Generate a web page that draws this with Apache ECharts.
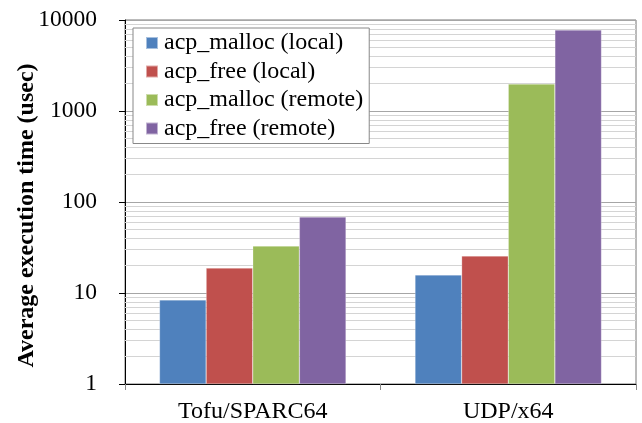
<!DOCTYPE html>
<html><head><meta charset="utf-8">
<script src="https://cdn.jsdelivr.net/npm/echarts@6/dist/echarts.min.js"></script>
<style>html,body{margin:0;padding:0;background:#fff}#c{width:642px;height:423px}</style>
</head><body><div id="c"></div>
<script>
const categories = ['Tofu/SPARC64', 'UDP/x64'];
const seriesNames = ['acp_malloc (local)', 'acp_free (local)', 'acp_malloc (remote)', 'acp_free (remote)'];
const mallocLocal = [8.4, 15.8];
const freeLocal = [18.8, 25.5];
const mallocRemote = [32.8, 1980];
const freeRemote = [68.4, 7770];
const colors = ['#4F81BD', '#C0504D', '#9BBB59', '#8064A2'];
const minorGridValues = [2,3,4,5,6,7,8,9,20,30,40,50,60,70,80,90,200,300,400,500,600,700,800,900,2000,3000,4000,5000,6000,7000,8000,9000];

const font = '"Liberation Serif", "Times New Roman", serif';
const values = [mallocLocal, freeLocal, mallocRemote, freeRemote];
const series = values.map((v, i) => ({
  name: seriesNames[i], type: 'bar', data: v, barGap: '0%', barCategoryGap: '27%', z: 2,
  itemStyle: { color: colors[i], borderColor: 'rgba(255,255,255,0.5)', borderWidth: 0.5 }
}));
series.push({
  type: 'line', data: [], z: 1, silent: true,
  markLine: {
    silent: true, symbol: 'none', z: 1, label: { show: false },
    lineStyle: { color: '#d4d4d4', width: 1, type: 'solid' },
    data: minorGridValues.map(v => ({ yAxis: v }))
  }
});

const chart = echarts.init(document.getElementById('c'));
chart.setOption({
  animation: false,
  color: colors,
  grid: { left: 125, right: 6, top: 20, bottom: 39, outerBoundsMode: 'none', containLabel: false, show: true, borderColor: '#777', borderWidth: 1, backgroundColor: 'transparent' },
  legend: {
    data: seriesNames, orient: 'vertical', left: 133, top: 28,
    backgroundColor: '#fff', borderColor: '#888', borderWidth: 1,
    padding: [3, 6, 3, 12], itemGap: 4.5, itemWidth: 12, itemHeight: 12, icon: 'rect',
    textStyle: { fontFamily: font, fontSize: 24, color: '#000', padding: [0, 0, 0, 1] }
  },
  xAxis: {
    type: 'category', data: categories,
    axisLine: { lineStyle: { color: '#000', width: 1 } },
    axisTick: { show: true, length: 6, lineStyle: { color: '#888' } },
    axisLabel: { fontFamily: font, fontSize: 24, color: '#000', margin: 16 }
  },
  yAxis: {
    type: 'log', logBase: 10, min: 1, max: 10000,
    name: 'Average execution time (usec)', nameLocation: 'middle', nameGap: 86, nameRotate: 90,
    nameMoveOverlap: false,
    nameTextStyle: { fontFamily: font, fontSize: 24, fontWeight: 'bold', color: '#000', padding: [0, 27, 0, 0] },
    axisLine: { show: true, lineStyle: { color: '#000', width: 1 } },
    axisTick: { show: true, length: 6, lineStyle: { color: '#000' } },
    axisLabel: { fontFamily: font, fontSize: 23.5, color: '#000', margin: 28, formatter: v => String(Math.round(v)) },
    splitLine: { show: true, lineStyle: { color: '#a6a6a6', width: 1 } }
  },
  series: series
});
</script></body></html>
